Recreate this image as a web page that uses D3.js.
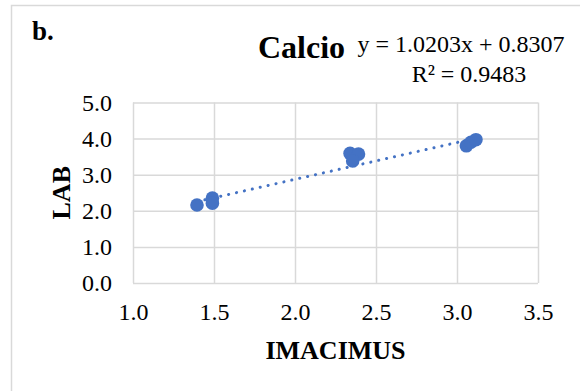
<!DOCTYPE html>
<html>
<head>
<meta charset="utf-8">
<script src="https://cdn.jsdelivr.net/npm/d3@7"></script>
<style>
    body { margin: 0; background: #fff; }
    text { font-family: 'Liberation Serif', 'Times New Roman', serif; fill: #000; }
</style>
</head>
<body>
<div id="chart"></div>
<script>
// data
var imacimus = [1.395, 1.49, 1.49, 2.34, 2.392, 2.356, 3.058, 3.086, 3.117];
var lab = [2.16, 2.35, 2.21, 3.59, 3.57, 3.38, 3.80, 3.90, 3.97];
var xTicks = [1.0, 1.5, 2.0, 2.5, 3.0, 3.5];
var yTicks = [0.0, 1.0, 2.0, 3.0, 4.0, 5.0];
var trendSlope = 1.0203;
var trendIntercept = 0.8307;
var trendLabel = 'y = 1.0203x + 0.8307';
var r2Label = 'R² = 0.9483';

// svg area
var svgWidth = 580;
var svgHeight = 391;

// plot area
var margin = { top: 102.5, right: 42, bottom: 108, left: 133 };
var chartWidth = svgWidth - margin.left - margin.right;
var chartHeight = svgHeight - margin.top - margin.bottom;

var blue = '#4472C4';
var grid = '#d9d9d9';

var svg = d3.select('#chart')
    .append('svg')
    .attr('width', svgWidth)
    .attr('height', svgHeight);

// outer chart border (only left and top edges are in the frame)
svg.append('path')
    .attr('d', `M11.5,${svgHeight} V5.5 H${svgWidth}`)
    .attr('fill', 'none')
    .attr('stroke', grid)
    .attr('stroke-width', 1.5);

var chartGroup = svg.append('g')
    .attr('transform', `translate(${margin.left}, ${margin.top})`);

// scales
var xScale = d3.scaleLinear().domain([1.0, 3.5]).range([0, chartWidth]);
var yScale = d3.scaleLinear().domain([0, 5]).range([chartHeight, 0]);

// horizontal gridlines + left labels
var leftAxis = d3.axisLeft(yScale)
    .tickValues(yTicks)
    .tickSize(-chartWidth)
    .tickPadding(21)
    .tickFormat(d3.format('.1f'));

var yAxis = chartGroup.append('g').call(leftAxis);
yAxis.select('.domain').remove();
yAxis.selectAll('line').attr('stroke', grid).attr('stroke-width', 1.5);
yAxis.selectAll('text')
    .attr('font-size', 24)
    .attr('font-family', 'Liberation Serif')
    .attr('fill', '#000');

// vertical gridlines + bottom labels
var bottomAxis = d3.axisBottom(xScale)
    .tickValues(xTicks)
    .tickSize(-chartHeight)
    .tickPadding(20)
    .tickFormat(d3.format('.1f'));

var xAxis = chartGroup.append('g')
    .attr('transform', `translate(0, ${chartHeight})`)
    .call(bottomAxis);
xAxis.select('.domain').remove();
xAxis.selectAll('line').attr('stroke', grid).attr('stroke-width', 1.5);
xAxis.selectAll('text')
    .attr('font-size', 24)
    .attr('font-family', 'Liberation Serif')
    .attr('fill', '#000');

// data points
var points = imacimus.map((x, i) => ({ x: x, y: lab[i] }));

chartGroup.selectAll('circle')
    .data(points)
    .enter()
    .append('circle')
    .attr('cx', d => xScale(d.x))
    .attr('cy', d => yScale(d.y))
    .attr('r', 6.8)
    .attr('fill', blue);

// dotted linear trendline over the data range
var xExtent = d3.extent(imacimus);
var trend = xExtent.map(x => ({ x: x, y: trendSlope * x + trendIntercept }));

chartGroup.append('path')
    .datum(trend)
    .attr('d', d3.line().x(d => xScale(d.x)).y(d => yScale(d.y)))
    .attr('fill', 'none')
    .attr('stroke', blue)
    .attr('stroke-width', 3)
    .attr('stroke-linecap', 'round')
    .attr('stroke-dasharray', '0.1 8');

// axis titles
svg.append('text')
    .attr('x', margin.left + chartWidth / 2)
    .attr('y', 359)
    .attr('text-anchor', 'middle')
    .attr('font-size', 26)
    .attr('font-weight', 'bold')
    .text('IMACIMUS');

svg.append('text')
    .attr('transform', `translate(70, ${margin.top + chartHeight / 2}) rotate(-90)`)
    .attr('text-anchor', 'middle')
    .attr('font-size', 26)
    .attr('font-weight', 'bold')
    .text('LAB');

// panel letter, title and trendline label
svg.append('text')
    .attr('x', 32)
    .attr('y', 40)
    .attr('font-size', 27)
    .attr('font-weight', 'bold')
    .text('b.');

svg.append('text')
    .attr('x', 258)
    .attr('y', 58)
    .attr('font-size', 32)
    .attr('font-weight', 'bold')
    .text('Calcio');

svg.append('text')
    .attr('x', 461)
    .attr('y', 52)
    .attr('text-anchor', 'middle')
    .attr('font-size', 24)
    .text(trendLabel);

svg.append('text')
    .attr('x', 469)
    .attr('y', 82)
    .attr('text-anchor', 'middle')
    .attr('font-size', 24)
    .text(r2Label);
</script>
</body>
</html>
